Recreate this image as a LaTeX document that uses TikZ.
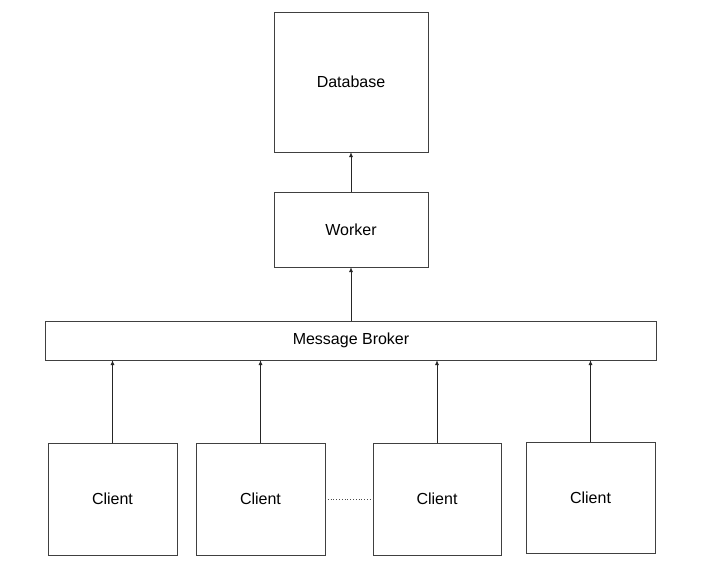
\documentclass[tikz,border=0pt]{standalone}
\usepackage{fontspec}
\setmainfont{Liberation Sans}
\usetikzlibrary{positioning,arrows.meta}
\tikzset{block/.style={draw=black!75, line width=1pt, inner sep=0pt, outer sep=0pt, align=center, font=\fontsize{16}{19}\selectfont},
         line/.style={draw=black!85, line width=1pt, -{Latex[length=5pt,width=4pt]}}}

\begin{document}
\begin{tikzpicture}[x=1pt,y=-1pt]
    \useasboundingbox[fill=white] (0,0) rectangle (704,576);

    \node[block,minimum width=154pt,minimum height=140pt] at (351,82) (db) {Database};
    \node[block,minimum width=154pt,minimum height=75pt,below=40pt of db] (worker) {Worker};
    \node[block,minimum width=611pt,minimum height=39pt,below=54pt of worker] (broker) {Message Broker};

    \node[block,minimum width=129pt,minimum height=112pt] at (112.5,499) (c1) {Client};
    \node[block,minimum width=129pt,minimum height=112pt,right=19pt of c1] (c2) {Client};
    \node[block,minimum width=128pt,minimum height=112pt,right=48pt of c2] (c3) {Client};
    \node[block,minimum width=129pt,minimum height=111pt,right=25pt of c3,yshift=1.5pt] (c4) {Client};

    \draw[line]               (worker)-- (db);
    \draw[line]               (broker.north -| worker)-- (worker);
    \draw[line]               (c1)-- (c1 |- broker.south);
    \draw[line]               (c2)-- (c2 |- broker.south);
    \draw[line]               (c3)-- (c3 |- broker.south);
    \draw[line]               (c4)-- (c4 |- broker.south);
    \draw[black!70, line width=0.8pt, dotted] (c2)-- (c3);
\end{tikzpicture}
\end{document}
